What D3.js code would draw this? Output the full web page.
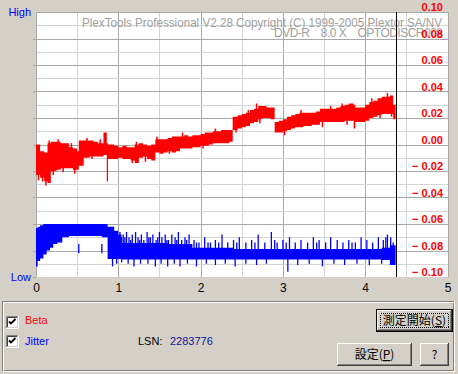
<!DOCTYPE html>
<html>
<head>
<meta charset="utf-8">
<script src="https://cdn.jsdelivr.net/npm/d3@7"></script>
<style>
  body { margin: 0; background: #d4d0c8; }
  svg { display: block; font-family: "Liberation Sans", Arial, sans-serif; }
</style>
</head>
<body>
<svg id="chart" width="458" height="374"></svg>
<script>
// Beta (right axis) band: position in GB, low and high edge of the trace
const betaPos = [0, 0.05, 0.10, 0.14, 0.18, 0.25, 0.30, 0.35, 0.40, 0.45, 0.50, 0.52, 0.58, 0.65, 0.70, 0.75, 0.82, 0.86, 0.875,
  0.95, 1.00, 1.05, 1.10, 1.15, 1.20, 1.25, 1.30, 1.35, 1.40, 1.45, 1.50, 1.55, 1.60, 1.65, 1.70, 1.75, 1.80, 1.85, 1.90,
  1.95, 2.00, 2.05, 2.10, 2.15, 2.20, 2.25, 2.30, 2.35, 2.39, 2.45, 2.50, 2.55, 2.60, 2.65, 2.70, 2.75, 2.80, 2.85, 2.90,
  2.95, 3.00, 3.05, 3.10, 3.15, 3.20, 3.25, 3.30, 3.35, 3.40, 3.45, 3.50, 3.55, 3.60, 3.65, 3.70, 3.75, 3.80, 3.86, 3.88,
  3.95, 4.00, 4.05, 4.10, 4.15, 4.20, 4.25, 4.30, 4.34, 4.37];
const betaHigh = [0.000, -0.005, -0.006, 0.001, 0.002, 0.002, 0.001, 0.001, -0.002, -0.003, -0.005, 0.003, 0.003, 0.003, 0.002, 0.001, 0.009, 0.001, 0.000,
  -0.001, -0.002, -0.001, -0.002, -0.002, 0.000, 0.001, 0.000, -0.001, 0.000, 0.004, 0.004, 0.004, 0.005, 0.006, 0.006, 0.006, 0.007, 0.006, 0.007,
  0.007, 0.008, 0.009, 0.009, 0.010, 0.010, 0.011, 0.011, 0.011, 0.021, 0.022, 0.023, 0.024, 0.026, 0.027, 0.029, 0.029, 0.028, 0.028, 0.017,
  0.018, 0.019, 0.021, 0.022, 0.023, 0.024, 0.024, 0.024, 0.024, 0.025, 0.027, 0.027, 0.027, 0.027, 0.028, 0.029, 0.030, 0.031, 0.030, 0.028,
  0.028, 0.030, 0.032, 0.033, 0.035, 0.036, 0.036, 0.037, 0.030, 0.028];
const betaLow = [-0.023, -0.025, -0.028, -0.029, -0.020, -0.019, -0.018, -0.018, -0.018, -0.019, -0.019, -0.016, -0.010, -0.009, -0.009, -0.009, -0.008, -0.028, -0.011,
  -0.011, -0.010, -0.011, -0.011, -0.012, -0.014, -0.010, -0.009, -0.011, -0.012, -0.006, -0.007, -0.006, -0.005, -0.006, -0.005, -0.003, -0.003, -0.003, -0.002,
  -0.002, -0.001, -0.001, 0.000, 0.001, 0.001, 0.001, 0.001, 0.002, 0.011, 0.012, 0.013, 0.014, 0.016, 0.017, 0.019, 0.020, 0.020, 0.019, 0.009,
  0.009, 0.010, 0.011, 0.012, 0.013, 0.013, 0.014, 0.014, 0.015, 0.015, 0.017, 0.017, 0.017, 0.017, 0.017, 0.017, 0.018, 0.018, 0.012, 0.017,
  0.017, 0.018, 0.020, 0.021, 0.022, 0.023, 0.023, 0.023, 0.019, 0.018];

// Beta single-sample excursions beyond the band
const betaPeakPos = [0.03, 0.08, 0.12, 0.16, 0.21, 0.27, 0.33, 0.43, 0.47, 0.56, 0.62, 0.68, 0.78, 1.17, 1.22, 1.33, 1.47, 1.62, 1.78,
  2.03, 2.18, 2.43, 2.58, 2.68, 2.72, 3.02, 3.22, 3.48, 3.58, 3.72, 3.78, 4.08, 4.18, 4.27, 4.32];
const betaPeakValue = [-0.027, -0.028, -0.031, 0.003, -0.023, 0.004, -0.021, 0.001, -0.022, -0.014, 0.005, -0.011, 0.004, -0.014, 0.002, -0.013, 0.006, -0.007, 0.009,
  -0.003, 0.012, 0.009, 0.026, 0.031, 0.016, 0.007, 0.026, 0.013, 0.029, 0.031, 0.015, 0.035, 0.020, 0.039, 0.021];

// Jitter (Low..High, relative) solid core of the trace
const jitterPos = [0, 0.02, 0.05, 0.09, 0.13, 0.17, 0.21, 0.26, 0.32, 0.40, 0.50, 0.60, 0.70, 0.80, 0.87, 0.95, 1.00, 1.04, 1.30, 1.60, 1.90, 2.40, 3.00, 3.60, 4.20, 4.30, 4.37];
const jitterLow = [0.040, 0.060, 0.070, 0.085, 0.100, 0.110, 0.125, 0.130, 0.150, 0.155, 0.155, 0.155, 0.155, 0.150, 0.068, 0.068, 0.068, 0.066, 0.066, 0.066, 0.066, 0.066, 0.066, 0.066, 0.064, 0.045, 0.045];
const jitterHigh = [0.185, 0.190, 0.195, 0.200, 0.200, 0.200, 0.200, 0.200, 0.200, 0.200, 0.200, 0.200, 0.200, 0.200, 0.190, 0.175, 0.160, 0.128, 0.128, 0.125, 0.110, 0.106, 0.106, 0.106, 0.110, 0.120, 0.120];

// Jitter peaks above and below the core
const peakUpPos = [1.02, 1.04, 1.06, 1.08, 1.10, 1.13, 1.15, 1.17, 1.21, 1.24, 1.26, 1.28, 1.31, 1.35, 1.37, 1.39, 1.42, 1.46, 1.48, 1.50, 1.53, 1.57, 1.59, 1.61, 1.65, 1.69, 1.71, 1.73,
  1.77, 1.81, 1.83, 1.86, 1.92, 1.95, 1.98, 2.05, 2.09, 2.12, 2.18, 2.22, 2.26, 2.33, 2.40, 2.44, 2.47, 2.55, 2.62, 2.66, 2.70, 2.78, 2.86, 2.90, 2.93, 3.00, 3.04, 3.08,
  3.15, 3.22, 3.30, 3.37, 3.41, 3.44, 3.52, 3.58, 3.66, 3.73, 3.80, 3.84, 3.88, 3.95, 4.02, 4.09, 4.16, 4.22, 4.25, 4.27, 4.31, 4.34];
const peakUpTop = [0.17, 0.15, 0.16, 0.15, 0.17, 0.15, 0.14, 0.16, 0.17, 0.15, 0.14, 0.16, 0.14, 0.17, 0.15, 0.15, 0.16, 0.14, 0.15, 0.17, 0.15, 0.16, 0.14, 0.14, 0.16, 0.15, 0.14, 0.17,
  0.14, 0.15, 0.14, 0.16, 0.14, 0.13, 0.13, 0.15, 0.13, 0.13, 0.14, 0.13, 0.16, 0.13, 0.14, 0.13, 0.15, 0.13, 0.14, 0.13, 0.16, 0.13, 0.17, 0.14, 0.13, 0.14, 0.13, 0.15,
  0.13, 0.14, 0.13, 0.15, 0.13, 0.14, 0.13, 0.15, 0.14, 0.13, 0.14, 0.13, 0.13, 0.15, 0.14, 0.13, 0.15, 0.14, 0.15, 0.16, 0.15, 0.13];
const peakDownPos = [0.52, 0.80, 0.93, 0.98, 1.04, 1.12, 1.19, 1.27, 1.36, 1.45, 1.52, 1.60, 1.68, 1.75, 1.84, 1.95, 2.07, 2.18, 2.30,
  2.42, 2.55, 2.68, 2.80, 3.06, 3.18, 3.32, 3.48, 3.62, 3.75, 3.90, 4.05, 4.20];
const peakDownBottom = [0.125, 0.125, 0.040, 0.050, 0.055, 0.050, 0.040, 0.050, 0.050, 0.040, 0.050, 0.040, 0.050, 0.040, 0.050, 0.040, 0.050, 0.045, 0.050,
  0.040, 0.050, 0.045, 0.050, 0.020, 0.045, 0.050, 0.040, 0.050, 0.045, 0.050, 0.045, 0.050];

const endGB = 4.37;
const xTicks = [0, 1, 2, 3, 4, 5];
const betaTicks = [0.10, 0.08, 0.06, 0.04, 0.02, 0.00, -0.02, -0.04, -0.06, -0.08, -0.10];
const titleLine1 = 'PlexTools Professional V2.28 Copyright (C) 1999-2005 Plextor SA/NV';
const titleLine2 = 'DVD-R    8.0 X    OPTODISCR008';
const lsn = '2283776';

const margin = {top: 12, right: 10, bottom: 97, left: 36};

const svg = d3.select('#chart');

const x = d3.scaleLinear().domain([0, 5]).range([margin.left, 447.5]);
const y = d3.scaleLinear().domain([-0.1, 0.1]).range([277, margin.top]);
const yJ = d3.scaleLinear().domain([0, 1]).range([277, margin.top]);

// plot background
svg.append('rect')
  .attr('x', margin.left).attr('y', margin.top)
  .attr('width', 448 - margin.left).attr('height', 277 - margin.top)
  .attr('fill', '#fff');

// grid
const grid = svg.append('g').attr('shape-rendering', 'crispEdges');
grid.selectAll('line.v')
  .data(d3.range(0.5, 5, 0.5))
  .join('line')
  .attr('x1', d => Math.round(x(d)) + 0.5).attr('x2', d => Math.round(x(d)) + 0.5)
  .attr('y1', margin.top).attr('y2', 277)
  .attr('stroke', d => (d % 1 === 0 ? '#a8a8a8' : '#d4d4d4'));
grid.selectAll('line.h')
  .data(y.ticks(20).slice(1))
  .join('line')
  .attr('x1', margin.left).attr('x2', 448)
  .attr('y1', d => Math.round(y(d)) + 0.5).attr('y2', d => Math.round(y(d)) + 0.5)
  .attr('stroke', d => (Math.round(d * 100) % 2 === 0 ? '#a8a8a8' : '#d4d4d4'));
// frame
grid.append('path')
  .attr('d', `M${margin.left + 0.5},277V${margin.top + 0.5}H448.5V277`)
  .attr('fill', 'none').attr('stroke', '#a8a8a8');
// left ticks
grid.selectAll('line.t')
  .data(betaTicks.slice(1))
  .join('line')
  .attr('x1', 33).attr('x2', margin.left)
  .attr('y1', d => Math.round(y(d)) + 0.5).attr('y2', d => Math.round(y(d)) + 0.5)
  .attr('stroke', '#a8a8a8');

// watermark text
svg.append('text')
  .attr('x', 82).attr('y', 27)
  .attr('font-size', 12).attr('fill', '#a0a0a0')
  .attr('textLength', 360).attr('lengthAdjust', 'spacingAndGlyphs')
  .text(titleLine1);
svg.append('text')
  .attr('x', 274).attr('y', 37)
  .attr('font-size', 12).attr('fill', '#a0a0a0')
  .attr('textLength', 169).attr('lengthAdjust', 'spacing')
  .style('white-space', 'pre')
  .text(titleLine2);

// beta band
const betaData = betaPos.map((p, i) => ({p, lo: betaLow[i], hi: betaHigh[i]}));
svg.append('path')
  .datum(betaData)
  .attr('fill', '#ff0000')
  .attr('d', d3.area().curve(d3.curveStepAfter)
    .x(d => x(d.p)).y0(d => y(d.lo)).y1(d => y(d.hi)));

const bisect = d3.bisector(d => d).right;
svg.append('g')
  .attr('stroke', '#ff0000').attr('stroke-width', 1.5)
  .selectAll('line')
  .data(betaPeakPos.map((p, i) => {
    const k = Math.max(0, bisect(betaPos, p) - 1);
    return {p, a: (betaLow[k] + betaHigh[k]) / 2, b: betaPeakValue[i]};
  }))
  .join('line')
  .attr('x1', d => x(d.p)).attr('x2', d => x(d.p))
  .attr('y1', d => y(d.a)).attr('y2', d => y(d.b));

// jitter band
const jitterData = jitterPos.map((p, i) => ({p, lo: jitterLow[i], hi: jitterHigh[i]}));
svg.append('path')
  .datum(jitterData)
  .attr('fill', '#0000ff')
  .attr('d', d3.area().curve(d3.curveStepAfter)
    .x(d => x(d.p)).y0(d => yJ(d.lo)).y1(d => yJ(d.hi)));

svg.append('g')
  .attr('stroke', '#0000ff').attr('stroke-width', 1.3)
  .selectAll('line')
  .data(peakUpPos.map((p, i) => ({p, a: 0.10, b: peakUpTop[i]}))
    .concat(peakDownPos.map((p, i) => ({p, a: 0.09, b: peakDownBottom[i]}))))
  .join('line')
  .attr('x1', d => x(d.p)).attr('x2', d => x(d.p))
  .attr('y1', d => yJ(d.a)).attr('y2', d => yJ(d.b));

// end of scan marker
svg.append('line')
  .attr('x1', Math.round(x(endGB)) + 0.5).attr('x2', Math.round(x(endGB)) + 0.5)
  .attr('y1', margin.top).attr('y2', 277)
  .attr('stroke', '#000');

// right beta labels (drawn inside the plot)
svg.append('g')
  .attr('transform', 'translate(443,0)')
  .call(d3.axisLeft(y).tickValues(betaTicks).tickSize(0).tickPadding(0)
    .tickFormat(d => (d < 0 ? '\u2212 ' : '') + Math.abs(d).toFixed(2)))
  .call(g => g.select('.domain').remove())
  .call(g => g.selectAll('text')
    .attr('dy', -1.5)
    .attr('fill', '#ff0000')
    .attr('font-size', 11)
    .attr('font-weight', 'bold')
    .attr('font-family', '"Liberation Sans", Arial, sans-serif')
    .style('white-space', 'pre'));

// x axis
svg.append('g')
  .attr('transform', 'translate(0,277)')
  .call(d3.axisBottom(x).tickValues(xTicks).tickSize(0).tickPadding(6.5).tickFormat(d3.format('d')))
  .call(g => g.select('.domain').remove())
  .call(g => g.selectAll('text')
    .attr('fill', '#000').attr('font-size', 12)
    .attr('font-family', '"Liberation Sans", Arial, sans-serif'));

// High / Low
svg.append('text').attr('x', 31).attr('y', 16).attr('text-anchor', 'end')
  .attr('font-size', 11).attr('fill', '#0000ff').text('High');
svg.append('text').attr('x', 31).attr('y', 281).attr('text-anchor', 'end')
  .attr('font-size', 11).attr('fill', '#0000ff').text('Low');

// ---- bottom panel ----
const panel = svg.append('g').attr('shape-rendering', 'crispEdges');
panel.append('rect').attr('x', 2.5).attr('y', 301.5).attr('width', 451).attr('height', 69)
  .attr('fill', 'none').attr('stroke', '#808080');
panel.append('rect').attr('x', 3.5).attr('y', 302.5).attr('width', 451).attr('height', 69)
  .attr('fill', 'none').attr('stroke', '#fff');

function checkbox(cx, cy) {
  const g = svg.append('g').attr('transform', `translate(${cx},${cy})`);
  g.append('rect').attr('x', 0).attr('y', 0).attr('width', 12).attr('height', 12).attr('fill', '#fff');
  g.append('path').attr('d', 'M0.5,12V0.5H12').attr('fill', 'none').attr('stroke', '#808080');
  g.append('path').attr('d', 'M1.5,11V1.5H11').attr('fill', 'none').attr('stroke', '#404040');
  g.append('path').attr('d', 'M0,12.5H12.5V0').attr('fill', 'none').attr('stroke', '#fff');
  g.append('path').attr('d', 'M1,11.5H11.5V1').attr('fill', 'none').attr('stroke', '#d4d0c8');
  g.append('path').attr('d', 'M3,5.5L5,7.5L9.5,3').attr('fill', 'none').attr('stroke', '#000').attr('stroke-width', 1.8);
}
checkbox(6, 316);
checkbox(6, 335);

const legendFont = 11;
svg.append('text').attr('x', 25).attr('y', 324).attr('font-size', legendFont).attr('fill', '#ff0000').text('Beta');
svg.append('text').attr('x', 25).attr('y', 345).attr('font-size', legendFont).attr('fill', '#0000ff').text('Jitter');
svg.append('text').attr('x', 138).attr('y', 345).attr('font-size', legendFont).attr('fill', '#000').text('LSN:');
svg.append('text').attr('x', 170).attr('y', 345).attr('font-size', legendFont).attr('fill', '#1010a0').text(lsn);

function button(bx, by, bw, bh, label, isDefault) {
  const g = svg.append('g').attr('transform', `translate(${bx},${by})`).attr('shape-rendering', 'crispEdges');
  g.append('rect').attr('width', bw).attr('height', bh).attr('fill', '#d4d0c8');
  let o = 0;
  if (isDefault) {
    g.append('rect').attr('x', 0.5).attr('y', 0.5).attr('width', bw - 1).attr('height', bh - 1)
      .attr('fill', 'none').attr('stroke', '#000');
    o = 1;
  }
  g.append('path').attr('d', `M${o + 0.5},${bh - o - 1}V${o + 0.5}H${bw - o - 1}`).attr('fill', 'none').attr('stroke', '#fff');
  g.append('path').attr('d', `M${o},${bh - o - 0.5}H${bw - o - 0.5}V${o}`).attr('fill', 'none').attr('stroke', '#404040');
  g.append('path').attr('d', `M${o + 1},${bh - o - 1.5}H${bw - o - 1.5}V${o + 1}`).attr('fill', 'none').attr('stroke', '#808080');
  if (isDefault) {
    g.append('rect').attr('x', 4.5).attr('y', 4.5).attr('width', bw - 9).attr('height', bh - 9)
      .attr('fill', 'none').attr('stroke', '#000').attr('stroke-dasharray', '1,1');
  }
  const t = g.append('text').attr('x', bw / 2).attr('y', bh / 2 + 4.5).attr('text-anchor', 'middle')
    .attr('font-size', 12).attr('fill', '#000')
    .attr('font-family', '"Noto Sans CJK JP", "Liberation Sans", sans-serif');
  label.forEach(part => {
    const s = t.append('tspan').text(part.t);
    if (part.u) s.attr('text-decoration', 'underline');
  });
}
button(376, 309, 77, 23, [{t: '測定開始('}, {t: 'S', u: true}, {t: ')'}], true);
button(337, 343, 75, 23, [{t: '設定('}, {t: 'P', u: true}, {t: ')'}], false);
button(420, 343, 29, 23, [{t: '?'}], false);
</script>
</body>
</html>
